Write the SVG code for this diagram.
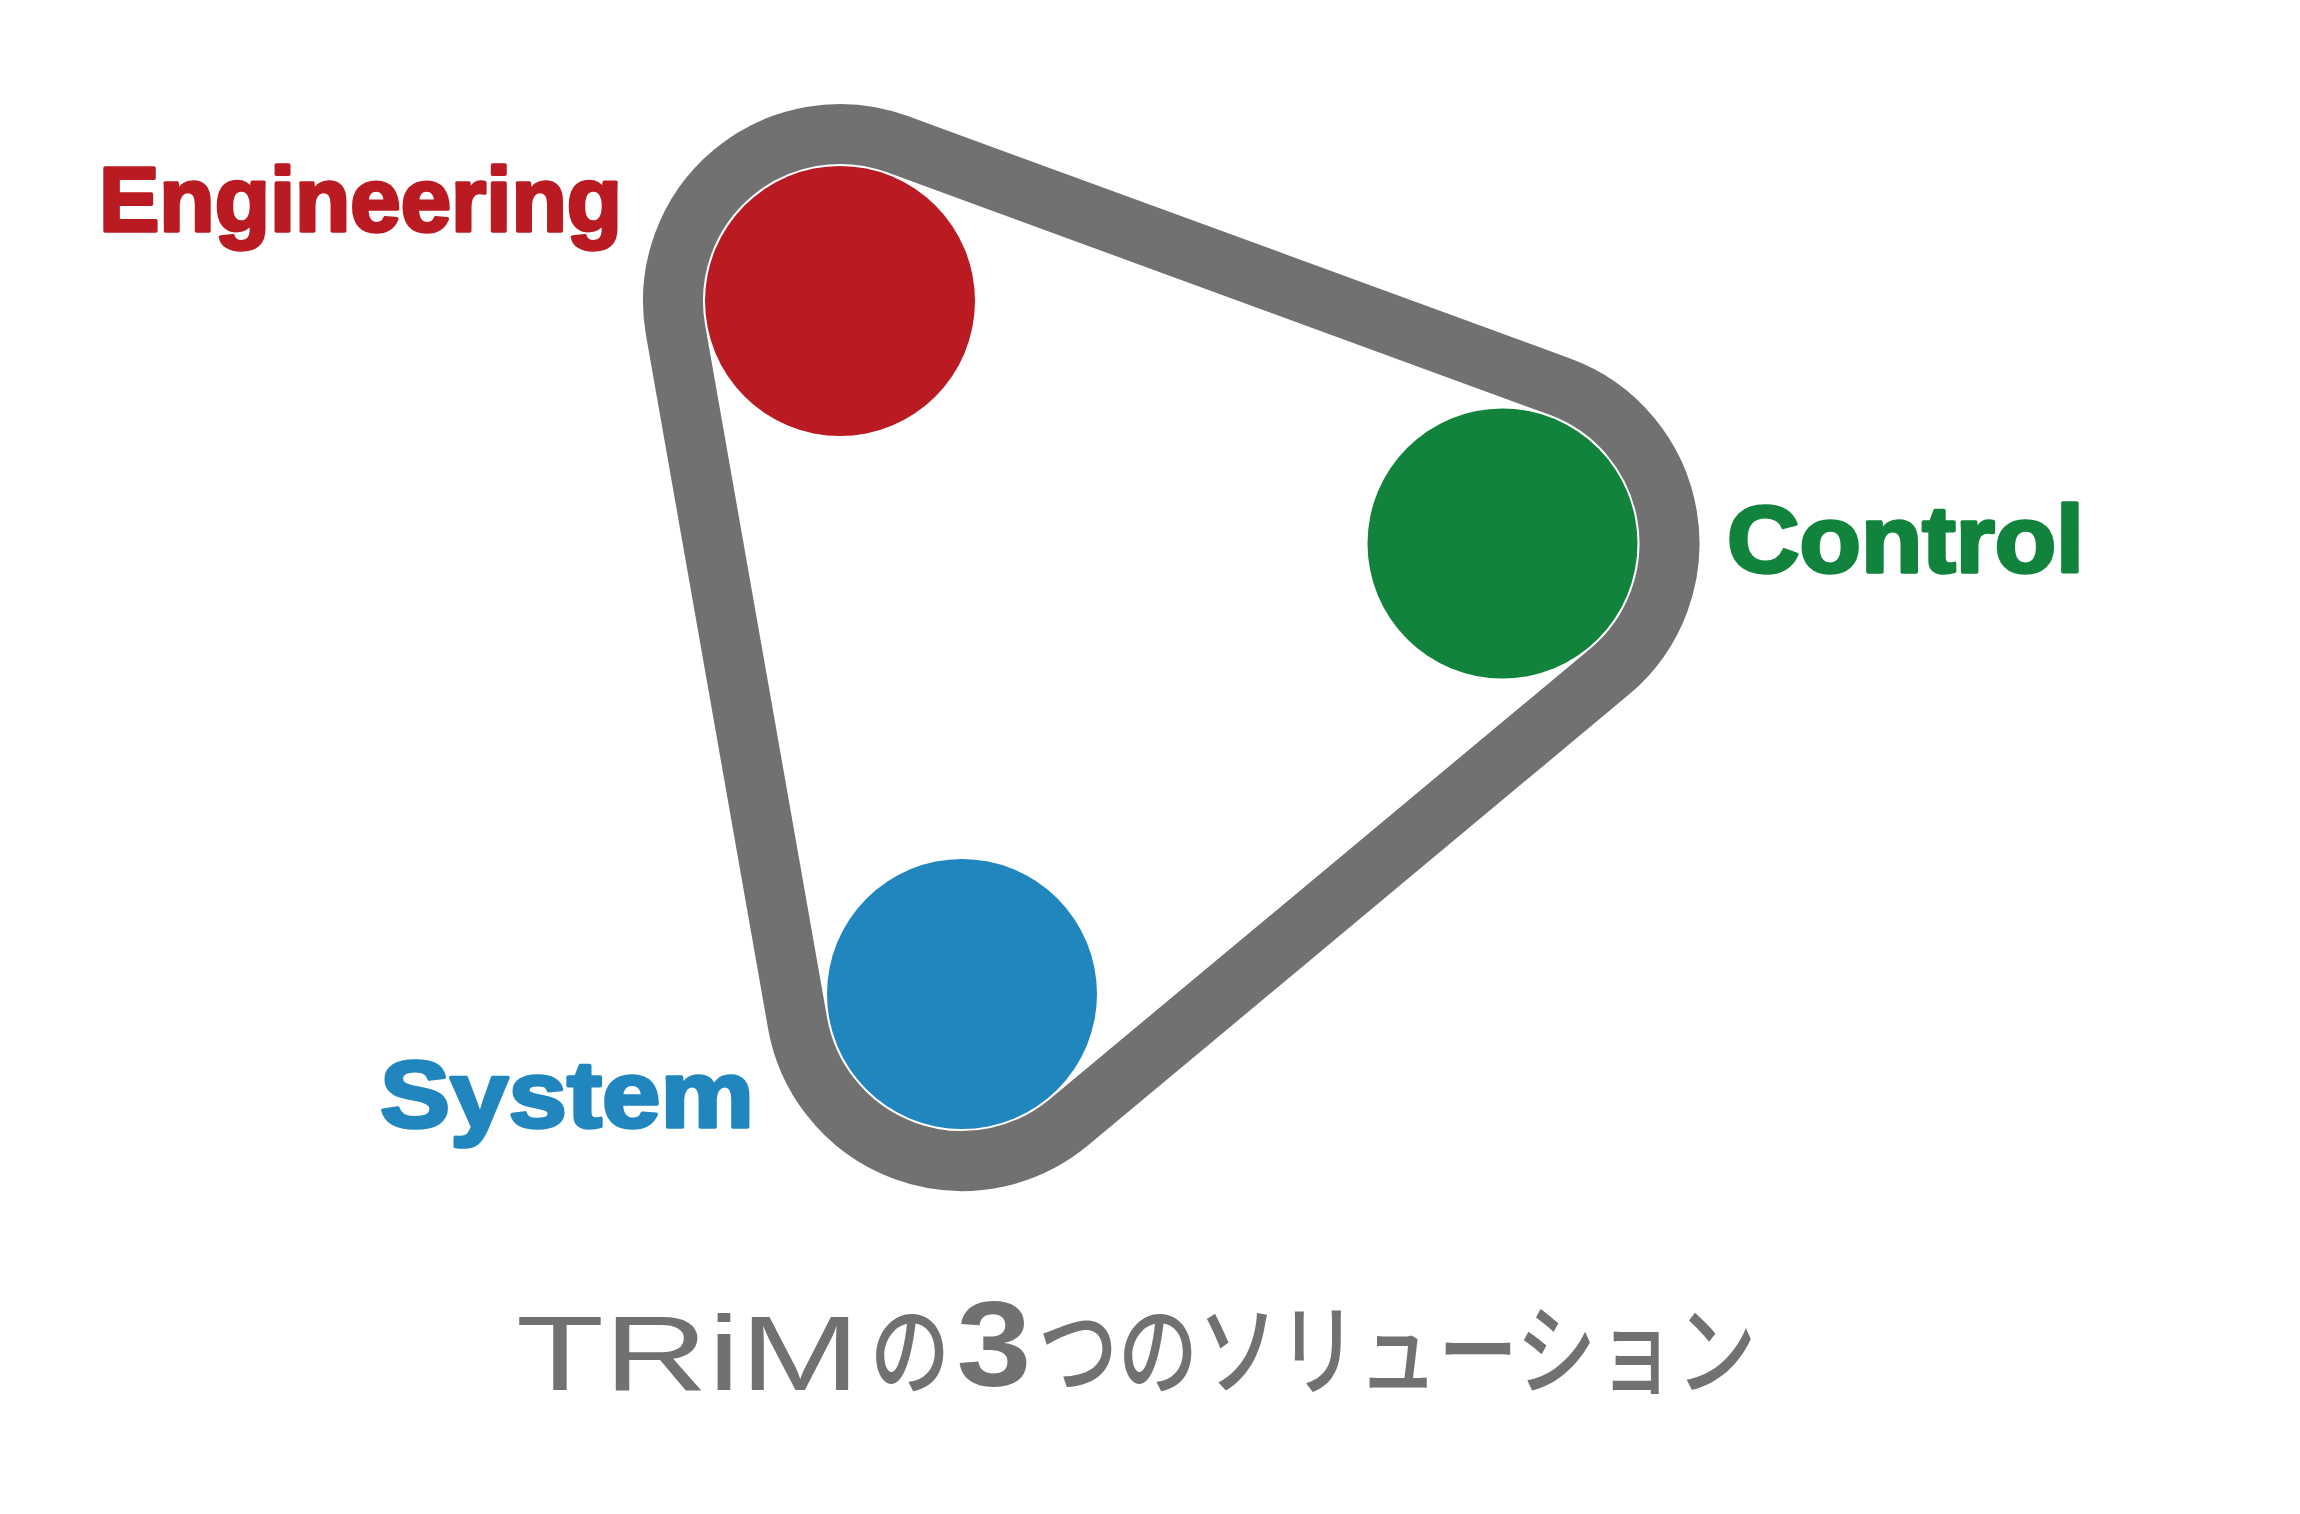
<svg xmlns="http://www.w3.org/2000/svg" width="2300" height="1514" viewBox="0 0 2300 1514">
  <style>
    .loop { fill: none; stroke: #717171; stroke-width: 60; stroke-linejoin: round; }
    .label { font-family: "Liberation Sans", Arial, sans-serif; font-weight: bold; stroke-width: 3.5; stroke-linejoin: round; }
    .eng { fill: #BA1B22; stroke: #BA1B22; font-size: 90px; }
    .ctl { fill: #11833C; stroke: #11833C; font-size: 94px; }
    .sys { fill: #2186BD; stroke: #2186BD; font-size: 95px; }
    .title { fill: #717171; }
    .latin { font-family: "Liberation Sans", Arial, sans-serif; font-size: 106px; }
    .num { font-family: "Liberation Sans", Arial, sans-serif; font-weight: bold; font-size: 120px; }
    .jp { font-family: "Noto Sans CJK JP", "Noto Sans", sans-serif; font-size: 100px; font-weight: 500; }
  </style>
  <rect width="2300" height="1514" fill="#FFFFFF"/>
  <g id="connectors">
    <path class="loop" d="M 897.40,144.18 L 1559.90,386.68 A 167 167 0 0 1 1609.42,671.78 L 1068.92,1122.28 A 167 167 0 0 1 797.53,1022.95 L 675.53,329.95 A 167 167 0 0 1 897.40,144.18 Z"/>
  </g>
  <g id="node-engineering">
    <circle cx="840" cy="301" r="135" fill="#BA1B22"/>
    <text class="label eng" x="99" y="231" textLength="523" lengthAdjust="spacingAndGlyphs">Engineering</text>
  </g>
  <g id="node-control">
    <circle cx="1502.5" cy="543.5" r="135" fill="#11833C"/>
    <text class="label ctl" x="1727" y="572" textLength="357" lengthAdjust="spacingAndGlyphs">Control</text>
  </g>
  <g id="node-system">
    <circle cx="962" cy="994" r="135" fill="#2186BD"/>
    <text class="label sys" x="380" y="1127" textLength="374" lengthAdjust="spacingAndGlyphs">System</text>
  </g>
  <g id="title" class="title">
    <text class="latin" x="516" y="1390" textLength="344" lengthAdjust="spacingAndGlyphs">TRiM</text>
    <text class="jp" transform="translate(870,1387) scale(0.8,1)">の</text>
    <text class="num" transform="translate(956.5,1386) scale(1.12,1)">3</text>
    <text class="jp" transform="translate(1038,1387) scale(0.8,1)">つのソリューション</text>
  </g>
</svg>
